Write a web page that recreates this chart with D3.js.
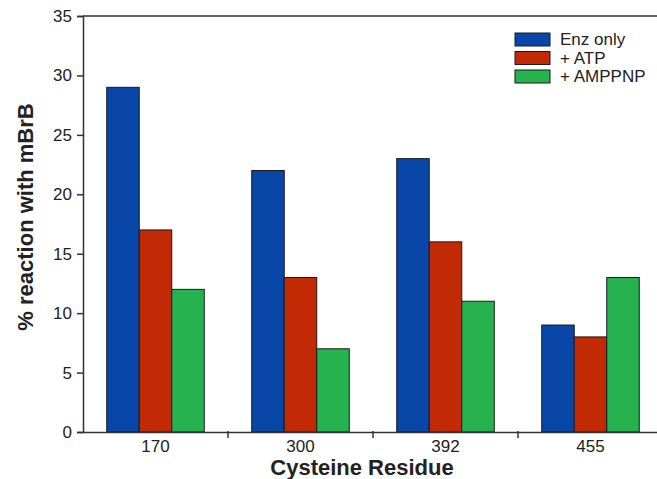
<!DOCTYPE html>
<meta charset="utf-8">
<style>
  body { margin: 0; background: #fff; }
  text { font-family: "Liberation Sans", Arial, sans-serif; fill: #222; }
  .tick text { font-size: 17px; }
  .title { font-size: 22px; font-weight: bold; }
  .legend text { font-size: 17px; }
</style>
<svg width="657" height="479"></svg>
<script src="https://d3js.org/d3.v7.min.js"></script>
<script>

// data
var residues = ['170', '300', '392', '455'];
var seriesNames = ['Enz only', '+ ATP', '+ AMPPNP'];
var enzOnly = [29, 22, 23, 9];
var plusATP = [17, 13, 16, 8];
var plusAMPPNP = [12, 7, 11, 13];
var yTicks = [0, 5, 10, 15, 20, 25, 30, 35];
var colors = ['#0846a8', '#c22a06', '#26b34f'];

var series = [enzOnly, plusATP, plusAMPPNP];

var svg = d3.select('svg');
var margin = {left: 83, top: 16, bottom: 432, right: 663};

var x = d3.scaleBand()
    .domain(residues)
    .range([margin.left, margin.right]);

var x1 = d3.scaleBand()
    .domain(d3.range(seriesNames.length))
    .range([0, x.bandwidth()])
    .paddingOuter(0.73)
    .paddingInner(0);

var y = d3.scaleLinear()
    .domain([0, 35])
    .range([margin.bottom, margin.top]);

// top frame line
svg.append('line')
    .attr('x1', margin.left).attr('x2', 657)
    .attr('y1', y(35)).attr('y2', y(35))
    .attr('stroke', '#333').attr('stroke-width', 1.5);

// bars
var groups = svg.append('g')
  .selectAll('g')
  .data(residues)
  .enter().append('g')
    .attr('transform', function(d) { return 'translate(' + x(d) + ',0)'; });

groups.selectAll('rect')
  .data(function(d, i) { return series.map(function(s, k) { return {k: k, v: s[i]}; }); })
  .enter().append('rect')
    .attr('x', function(d) { return x1(d.k); })
    .attr('width', x1.bandwidth())
    .attr('y', function(d) { return y(d.v); })
    .attr('height', function(d) { return y(0) - y(d.v); })
    .attr('fill', function(d) { return colors[d.k]; })
    .attr('stroke', '#1a1a1a')
    .attr('stroke-width', 1);

// y axis
var yAxis = svg.append('g')
    .attr('transform', 'translate(' + margin.left + ',0)')
    .call(d3.axisLeft(y).tickValues(yTicks).tickSize(6).tickPadding(5));

// x axis with ticks at group boundaries
var xAxis = svg.append('g')
    .attr('transform', 'translate(0,' + margin.bottom + ')')
    .call(d3.axisBottom(x).tickSize(0).tickPadding(8));

xAxis.selectAll('.sep')
  .data(residues.slice(1))
  .enter().append('line')
    .attr('class', 'sep')
    .attr('x1', function(d) { return x(d); })
    .attr('x2', function(d) { return x(d); })
    .attr('y1', -1).attr('y2', 6)
    .attr('stroke', '#333').attr('stroke-width', 1.5);

svg.selectAll('.domain').attr('stroke', '#333').attr('stroke-width', 1.5);
svg.selectAll('.tick line').attr('stroke', '#333').attr('stroke-width', 1.5);

// titles
svg.append('text')
    .attr('class', 'title')
    .attr('x', 362)
    .attr('y', 475)
    .attr('text-anchor', 'middle')
    .text('Cysteine Residue');

svg.append('text')
    .attr('class', 'title')
    .attr('transform', 'translate(33,217) rotate(-90)')
    .attr('text-anchor', 'middle')
    .text('% reaction with mBrB');

// legend
var legend = svg.append('g')
    .attr('class', 'legend')
    .attr('transform', 'translate(515,33)');

var item = legend.selectAll('g')
  .data(seriesNames)
  .enter().append('g')
    .attr('transform', function(d, i) { return 'translate(0,' + (i * 18.5) + ')'; });

item.append('rect')
    .attr('width', 35).attr('height', 13)
    .attr('fill', function(d, i) { return colors[i]; })
    .attr('stroke', '#1a1a1a');

item.append('text')
    .attr('x', 45).attr('y', 12)
    .text(function(d) { return d; });

</script>
